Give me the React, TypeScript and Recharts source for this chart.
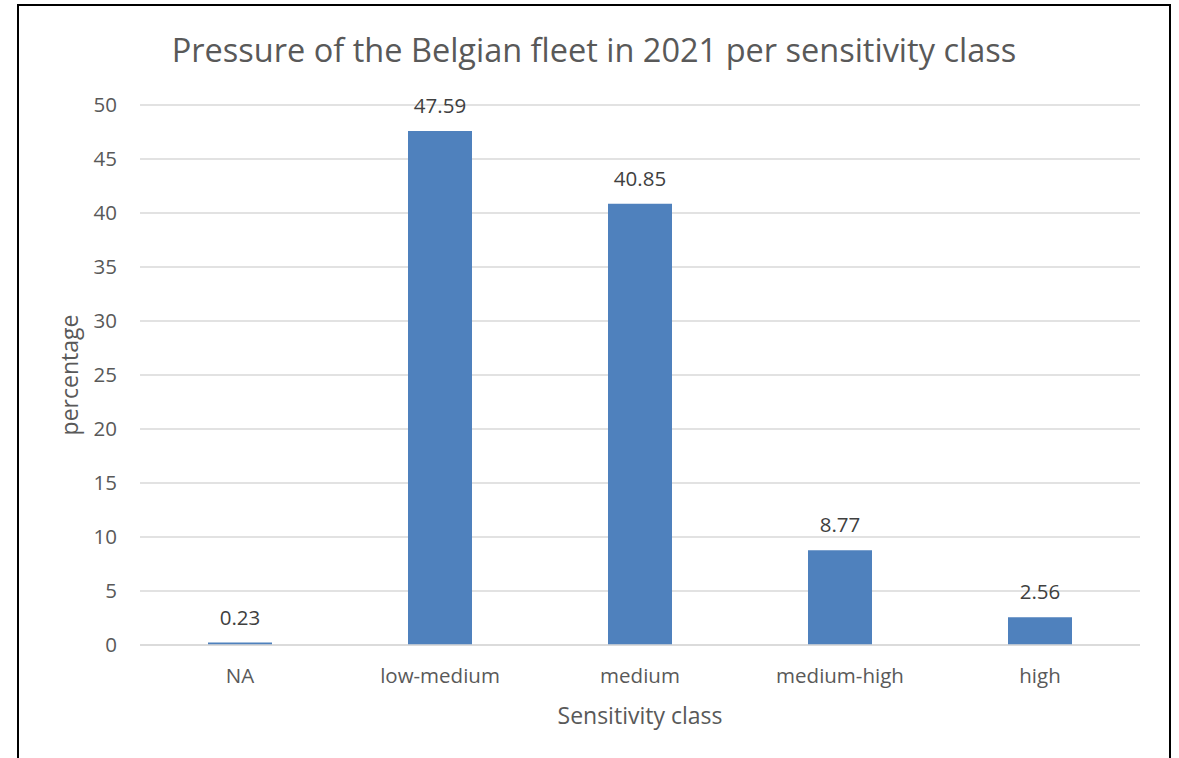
import { Bar, BarChart, CartesianGrid, LabelList, XAxis, YAxis } from 'recharts';

const categories = ['NA', 'low-medium', 'medium', 'medium-high', 'high'];
const percentages = [0.23, 47.59, 40.85, 8.77, 2.56];
const yTicks = [0, 5, 10, 15, 20, 25, 30, 35, 40, 45, 50];

const data = categories.map((klasse, i) => ({ klasse, pct: percentages[i] }));

const FONT = "'Open Sans', 'Noto Sans', sans-serif";

export default function App() {
  return (
    <div style={{ position: 'absolute', left: 0, top: 0, width: 1179, height: 758, overflow: 'hidden', background: '#fff', fontFamily: FONT }}>
      <div style={{ position: 'absolute', left: 17, top: 4, width: 1150, height: 800, border: '2px solid #000' }} />
      <div style={{ position: 'absolute', left: 18, width: 1152, top: 27, textAlign: 'center', fontSize: 32.5, color: '#595959', whiteSpace: 'nowrap' }}>
        Pressure of the Belgian fleet in 2021 per sensitivity class
      </div>
      <div style={{ position: 'absolute', left: 0, top: 0 }}>
        <BarChart width={1179} height={758} data={data} barCategoryGap="34%"
          margin={{ top: 105, right: 39, left: 48, bottom: 33 }}>
          <CartesianGrid vertical={false} stroke="#d9d9d9" strokeWidth={1.5} />
          <XAxis dataKey="klasse" height={80} axisLine={{ stroke: '#d9d9d9', strokeWidth: 1.5 }} tickLine={false} tickSize={0} tickMargin={23}
            tick={{ fill: '#595959', fontSize: 20.5, fontFamily: FONT }}
            label={{ value: 'Sensitivity class', position: 'insideBottom', offset: 1, fill: '#595959', fontSize: 23, fontFamily: FONT }} />
          <YAxis domain={[0, 50]} ticks={yTicks} width={92} axisLine={false} tickLine={false} tickSize={0} tickMargin={23}
            tick={{ fill: '#595959', fontSize: 20.5, fontFamily: FONT }}
            label={{ value: 'percentage', angle: -90, position: 'insideLeft', offset: 22, fill: '#595959', fontSize: 23, fontFamily: FONT, style: { textAnchor: 'middle' } }} />
          <Bar dataKey="pct" fill="#4f81bd" isAnimationActive={false}>
            <LabelList dataKey="pct" position="top" offset={18} fill="#404040" fontSize={20.5} fontFamily={FONT} />
          </Bar>
        </BarChart>
      </div>
    </div>
  );
}
